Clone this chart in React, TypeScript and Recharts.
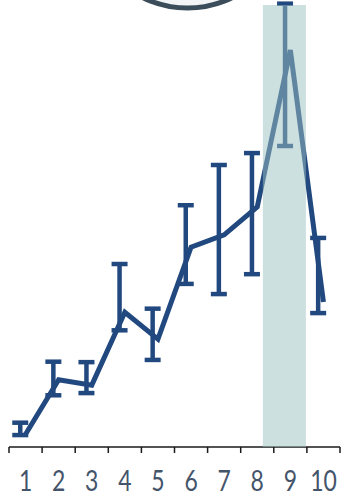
import React from 'react';
import { LineChart, Line, XAxis, YAxis, ErrorBar, ReferenceArea } from 'recharts';

const categories = [1, 2, 3, 4, 5, 6, 7, 8, 9, 10];
const lineValues = [2.9, 15.2, 14.0, 30.5, 24.4, 45.2, 48.0, 54.3, 89.8, 32.8];
const barMeans = [4.1, 15.5, 15.7, 33.9, 25.5, 45.8, 49.2, 52.8, 84.2, 38.8];
const barErrors = [1.4, 3.8, 3.5, 7.5, 5.8, 8.9, 14.6, 13.7, 16.1, 8.5];
const tickLabels = ['1', '2', '3', '4', '5', '6', '7', '8', '9', '10'];
const boundaryTicks = [0.5, 1.5, 2.5, 3.5, 4.5, 5.5, 6.5, 7.5, 8.5, 9.5, 10.5];
const highlightStart = 8.17;
const highlightEnd = 9.47;

const data = categories.map((c, i) => ({
  x: c,
  y: lineValues[i],
  mean: barMeans[i],
  err: barErrors[i],
}));

const W = 341;
const H = 497;
const M = { top: 5, right: 1, left: 9, bottom: 0 };
const AXIS_H = 50;
const BAND = (W - M.left - M.right) / categories.length;
const BLUE = '#22497f';

function Tick(props: any) {
  const { x, y, index } = props;
  if (index >= tickLabels.length) return null;
  return (
    <g transform={`translate(${x + BAND / 2},${y + 36}) scale(0.82,1)`}>
      <text
        x={0}
        y={0}
        textAnchor="middle"
        fill="#44546a"
        style={{ fontFamily: 'Lato, "Open Sans", sans-serif', fontSize: 28 }}
      >
        {tickLabels[index]}
      </text>
    </g>
  );
}

export default function App() {
  return (
    <div style={{ position: 'absolute', left: 0, top: 0, width: W, height: H, background: '#fff' }}>
      <LineChart width={W} height={H} data={data} margin={M}>
        <XAxis
          xAxisId="main"
          dataKey="x"
          type="number"
          domain={[0.5, 10.5]}
          ticks={boundaryTicks}
          interval={0}
          height={AXIS_H}
          tickSize={6}
          tickMargin={2}
          axisLine={{ stroke: '#1a1a1a', strokeWidth: 1.5 }}
          tickLine={{ stroke: '#1a1a1a', strokeWidth: 1.5 }}
          tick={<Tick />}
          allowDataOverflow
        />
        <XAxis
          xAxisId="shift"
          dataKey="x"
          type="number"
          domain={[0.66, 10.66]}
          hide
          allowDataOverflow
        />
        <YAxis yAxisId="v" domain={[0, 100]} hide allowDataOverflow />
        <Line
          xAxisId="shift"
          yAxisId="v"
          dataKey="mean"
          stroke="none"
          dot={false}
          activeDot={false}
          isAnimationActive={false}
        >
          <ErrorBar dataKey="err" width={8} stroke={BLUE} strokeWidth={4.5} direction="y" isAnimationActive={false} />
        </Line>
        <Line
          xAxisId="main"
          yAxisId="v"
          dataKey="y"
          stroke={BLUE}
          strokeWidth={5}
          dot={false}
          activeDot={false}
          isAnimationActive={false}
        />
        <ReferenceArea
          xAxisId="main"
          yAxisId="v"
          x1={highlightStart}
          x2={highlightEnd}
          fill="#9cc2c2"
          fillOpacity={0.5}
          stroke="none"
          zIndex={1000}
        />
      </LineChart>
      <svg width={W} height={20} style={{ position: 'absolute', left: 0, top: 0 }}>
        <circle cx={187.5} cy={-93.5} r={101.5} fill="#f2f4f5" stroke="#3b4d5a" strokeWidth={5} />
      </svg>
    </div>
  );
}
